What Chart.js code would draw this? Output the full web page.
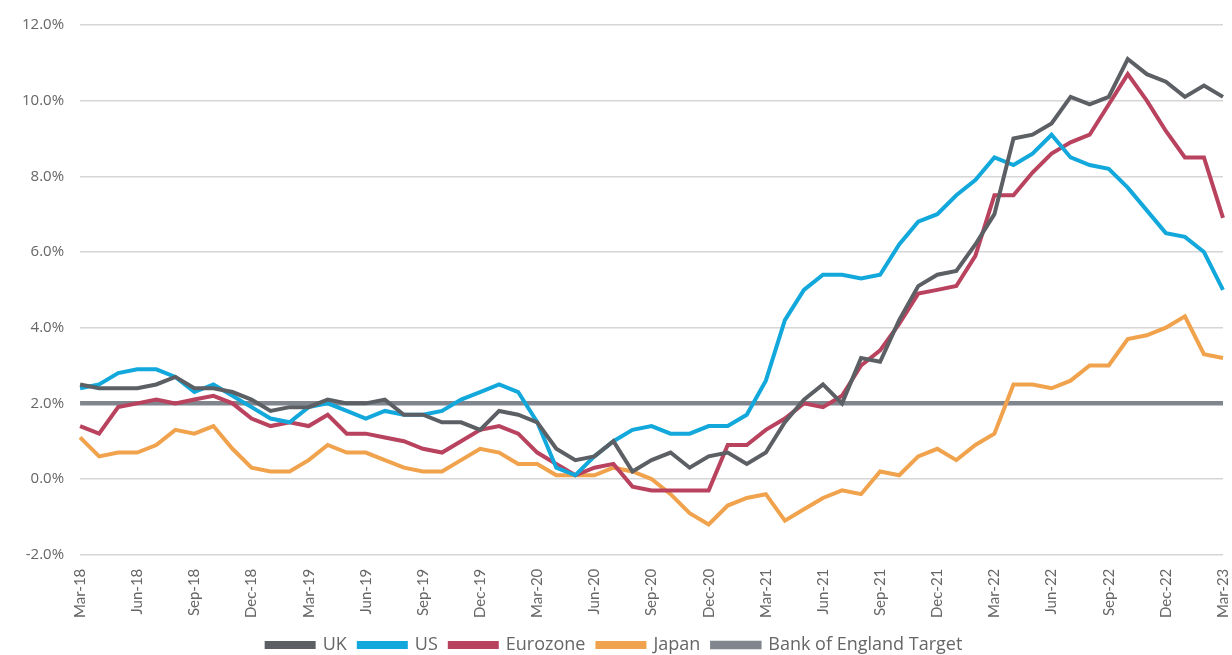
<!DOCTYPE html>
<html>
<head>
<meta charset="utf-8">
<script src="https://cdn.jsdelivr.net/npm/chart.js@4/dist/chart.umd.min.js"></script>
<style>
  html, body { margin: 0; padding: 0; background: #fff; }
  #wrap { width: 1232px; height: 655px; position: relative; }
</style>
</head>
<body>
<div id="wrap"><canvas id="inflation-chart"></canvas></div>
<script>
// monthly, Mar-18 .. Mar-23
var months = ['Jan', 'Feb', 'Mar', 'Apr', 'May', 'Jun', 'Jul', 'Aug', 'Sep', 'Oct', 'Nov', 'Dec'];
var labels = [];
for (var k = 0; k < 61; k++) {
    var m = (2 + k) % 12;
    var yr = 18 + Math.floor((2 + k) / 12);
    labels.push(months[m] + '-' + yr);
}

var uk = [2.5, 2.4, 2.4, 2.4, 2.5, 2.7, 2.4, 2.4, 2.3, 2.1, 1.8, 1.9, 1.9, 2.1, 2.0, 2.0, 2.1, 1.7, 1.7, 1.5,
    1.5, 1.3, 1.8, 1.7, 1.5, 0.8, 0.5, 0.6, 1.0, 0.2, 0.5, 0.7, 0.3, 0.6, 0.7, 0.4, 0.7, 1.5, 2.1, 2.5,
    2.0, 3.2, 3.1, 4.2, 5.1, 5.4, 5.5, 6.2, 7.0, 9.0, 9.1, 9.4, 10.1, 9.9, 10.1, 11.1, 10.7, 10.5, 10.1, 10.4, 10.1];
var us = [2.4, 2.5, 2.8, 2.9, 2.9, 2.7, 2.3, 2.5, 2.2, 1.9, 1.6, 1.5, 1.9, 2.0, 1.8, 1.6, 1.8, 1.7, 1.7, 1.8,
    2.1, 2.3, 2.5, 2.3, 1.5, 0.3, 0.1, 0.6, 1.0, 1.3, 1.4, 1.2, 1.2, 1.4, 1.4, 1.7, 2.6, 4.2, 5.0, 5.4,
    5.4, 5.3, 5.4, 6.2, 6.8, 7.0, 7.5, 7.9, 8.5, 8.3, 8.6, 9.1, 8.5, 8.3, 8.2, 7.7, 7.1, 6.5, 6.4, 6.0, 5.0];
var eurozone = [1.4, 1.2, 1.9, 2.0, 2.1, 2.0, 2.1, 2.2, 2.0, 1.6, 1.4, 1.5, 1.4, 1.7, 1.2, 1.2, 1.1, 1.0, 0.8, 0.7,
    1.0, 1.3, 1.4, 1.2, 0.7, 0.4, 0.1, 0.3, 0.4, -0.2, -0.3, -0.3, -0.3, -0.3, 0.9, 0.9, 1.3, 1.6, 2.0, 1.9,
    2.2, 3.0, 3.4, 4.1, 4.9, 5.0, 5.1, 5.9, 7.5, 7.5, 8.1, 8.6, 8.9, 9.1, 9.9, 10.7, 10.0, 9.2, 8.5, 8.5, 6.9];
var japan = [1.1, 0.6, 0.7, 0.7, 0.9, 1.3, 1.2, 1.4, 0.8, 0.3, 0.2, 0.2, 0.5, 0.9, 0.7, 0.7, 0.5, 0.3, 0.2, 0.2,
    0.5, 0.8, 0.7, 0.4, 0.4, 0.1, 0.1, 0.1, 0.3, 0.2, 0.0, -0.4, -0.9, -1.2, -0.7, -0.5, -0.4, -1.1, -0.8, -0.5,
    -0.3, -0.4, 0.2, 0.1, 0.6, 0.8, 0.5, 0.9, 1.2, 2.5, 2.5, 2.4, 2.6, 3.0, 3.0, 3.7, 3.8, 4.0, 4.3, 3.3, 3.2];
var boeTarget = labels.map(function () { return 2.0; });

var yTicks = [-2, 0, 2, 4, 6, 8, 10, 12];

function series(name, data, color, width) {
    return {
        label: name,
        data: data,
        borderColor: color,
        backgroundColor: color,
        borderWidth: width,
        pointRadius: 0,
        tension: 0,
        fill: false
    };
}

var ctx = document.getElementById('inflation-chart').getContext('2d');
var chart = new Chart(ctx, {
    type: 'line',
    data: {
        labels: labels,
        datasets: [
            series('UK', uk, '#5c6064', 4),
            series('US', us, '#12a8dc', 4),
            series('Eurozone', eurozone, '#b9425f', 4),
            series('Japan', japan, '#f1a24c', 4),
            series('Bank of England Target', boeTarget, '#81868e', 4.5)
        ]
    },
    options: {
        responsive: true,
        maintainAspectRatio: false,
        animation: false,
        layout: { padding: { top: 13, right: 9, left: 6, bottom: -9 } },
        plugins: {
            tooltip: { enabled: false },
            legend: {
                position: 'bottom',
                labels: {
                    boxWidth: 47,
                    boxHeight: 4,
                    padding: 12,
                    color: '#666',
                    font: { family: 'Open Sans', size: 18 }
                }
            }
        },
        scales: {
            x: {
                offset: false,
                grid: { display: false },
                border: { display: false },
                afterFit: function (scale) { scale.paddingRight = 0; scale.paddingLeft = 0; },
                ticks: {
                    autoSkip: false,
                    maxRotation: 90,
                    minRotation: 90,
                    padding: 6,
                    color: '#666',
                    font: { family: 'Lato', size: 15 },
                    callback: function (v, i) { return i % 3 === 0 ? labels[i] : ''; }
                }
            },
            y: {
                min: -2,
                max: 12,
                afterBuildTicks: function (axis) {
                    axis.ticks = yTicks.map(function (v) { return { value: v }; });
                },
                grid: { color: '#d6d6d6', lineWidth: 1.5, drawTicks: false },
                border: { display: false },
                ticks: {
                    padding: 16,
                    color: '#666',
                    font: { family: 'Open Sans', size: 15 },
                    callback: function (v) { return v.toFixed(1) + '%'; }
                }
            }
        }
    }
});
</script>
</body>
</html>
